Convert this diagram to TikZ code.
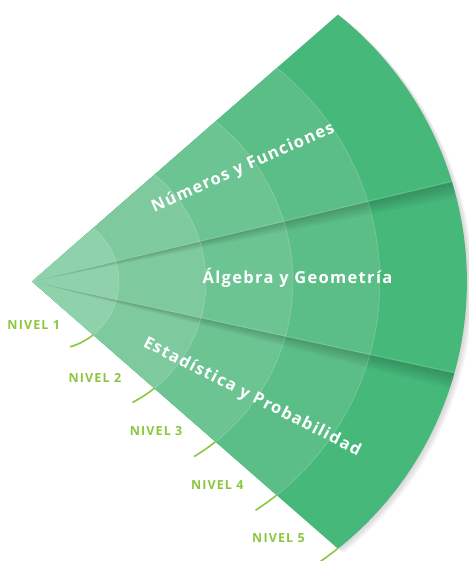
\documentclass[tikz,border=0pt]{standalone}
\usepackage{fontspec}
\setmainfont{Open Sans}
\usetikzlibrary{positioning}

\begin{document}
\begin{tikzpicture}[x=1pt, y=1pt,
  nivel/.style={text=lime1, inner sep=0pt,
    font=\fontsize{12.5}{14}\selectfont\bfseries\addfontfeature{LetterSpace=9}},
  tema/.style={text=white, inner sep=0pt, anchor=base,
    font=\fontsize{16.5}{19}\selectfont\bfseries\addfontfeature{LetterSpace=8}},
  ring/.style={draw=white, draw opacity=0.22, line width=0.6pt},
  tick/.style={draw=lime1, line width=1.6pt}]
  \useasboundingbox (0,0) rectangle (468,561);
  \coordinate (A) at (32,279.5);

  \definecolor{c1}{HTML}{8ED1AB}
  \definecolor{c2}{HTML}{7ECA9E}
  \definecolor{c3}{HTML}{6DC493}
  \definecolor{c4}{HTML}{5CBE87}
  \definecolor{c5}{HTML}{46B87A}
  \definecolor{lime1}{HTML}{8CC63F}

  % soft shadow
  \foreach \k in {1,...,7}
    \fill[black, opacity=0.025] ([shift={(\k*0.9,-\k*0.6)}]A) -- ++(41.1:406)
      arc[start angle=51.55, end angle=-51.55, radius=341] -- cycle;

  % bands, outside in
  \foreach \i/\c in {5/c5, 4/c4, 3/c3, 2/c2, 1/c1}{
    \fill[\c] (A) -- ++(41.1:{406*\i/5})
      arc[start angle=51.55, end angle=-51.55, radius={341*\i/5}] -- cycle;
  }

  % folds
  \begin{scope}
    \clip (A) -- ++(41.1:406) arc[start angle=51.55, end angle=-51.55, radius=341] -- cycle;
    \foreach \a in {13.3, -12.3}
      \foreach \k in {1,...,6}
        \fill[black, opacity=0.03] (A) -- ++(\a:480) -- ([shift={({\a-\k*0.35}:480)}]A) -- cycle;
    \foreach \a in {13.3, -12.3}
      \draw[white, opacity=0.15, line width=0.8pt] (A) -- ++({\a+0.15}:480);
  \end{scope}

  \foreach \i in {1,...,4}
    \draw[ring] (A) ++(41.1:{406*\i/5})
      arc[start angle=51.55, end angle=-51.55, radius={341*\i/5}];

  % levels
  \foreach \i in {1,...,5}{
    \coordinate (e\i) at ([shift={(-41.1:{406*\i/5})}]A);
    \draw[tick] (e\i) arc[start angle=-51.55, delta angle={-22/\i}, radius={341*\i/5}];
    \node[nivel, above left=5.5pt and 33pt of e\i] (n\i) {NIVEL \i};
  }

  \node[tema, rotate=24] (num) at (245,389) {Números y Funciones};
  \node[tema] (alg) at (297.5,277) {Álgebra y Geometría};
  \node[tema, rotate=-27] (est) at (250,160) {Estadística y Probabilidad};
\end{tikzpicture}
\end{document}
